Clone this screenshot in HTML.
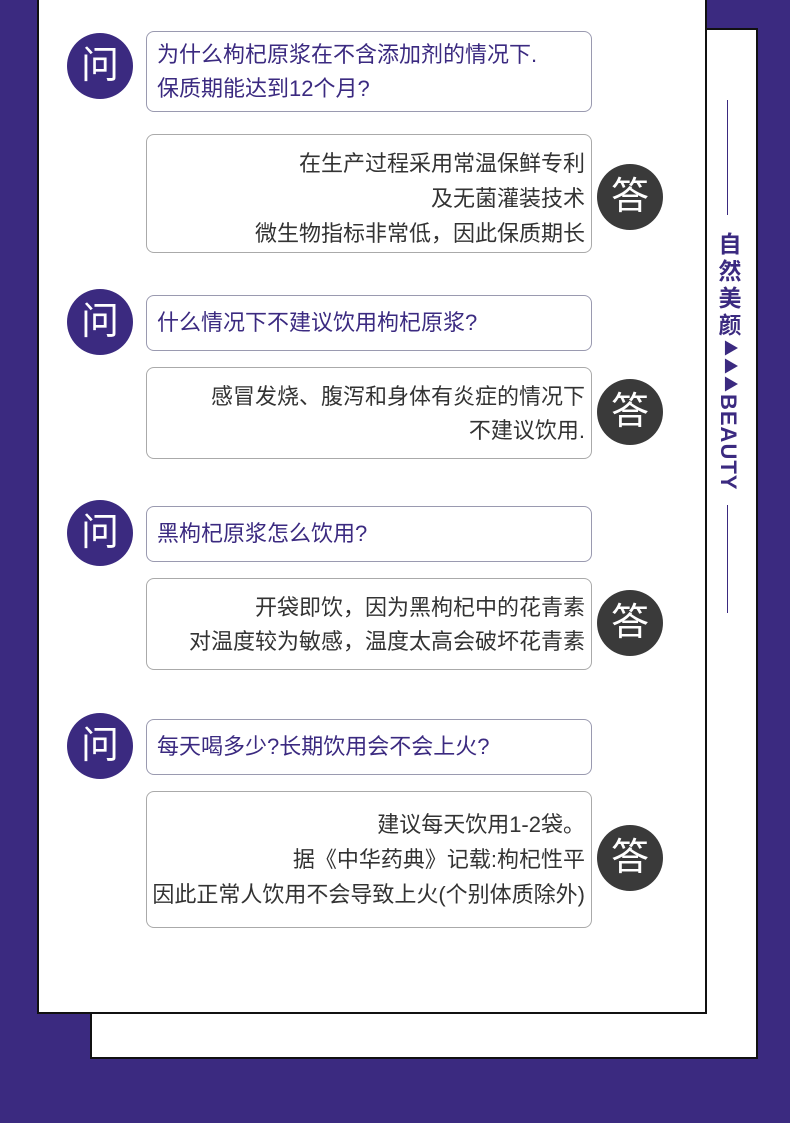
<!DOCTYPE html>
<html><head><meta charset="utf-8"><style>
*{margin:0;padding:0;box-sizing:border-box}
body{width:790px;height:1123px;background:#3b2a80;position:relative;overflow:hidden;font-family:"Liberation Sans","Noto Sans CJK SC",sans-serif}
.p{position:absolute;background:#fff;border:2px solid #111}
.c{position:absolute;width:66px;height:66px;border-radius:50%;color:#fff;font-size:38px;line-height:66px;text-align:center}
.q{background:#3b2a80}.a{background:#3a3a3a}
.b{position:absolute;left:146px;width:446px;border:1px solid #9a9ab0;border-radius:8px;font-size:22px;white-space:nowrap}
.bq{color:#3b2a80;padding-left:10px}
.ba{color:#333;text-align:right;padding-right:6px;border-color:#aaa}
.v{position:absolute;left:727px;width:1px;background:#3b2a80}
</style></head><body>
<div class="p" style="left:90px;top:28px;width:668px;height:1031px"></div>
<div class="p" style="left:37px;top:-2px;width:670px;height:1016px"></div>
<div class="v" style="top:100px;height:115px"></div>
<div class="v" style="top:505px;height:108px"></div>
<div style="position:absolute;left:715px;top:232px;width:26px;color:#3b2a80;font-weight:bold;font-size:23px;line-height:26px;letter-spacing:4px;text-align:center;writing-mode:vertical-rl">自然美颜<span style="font-size:16px;letter-spacing:2px">▶▶▶</span><span style="font-size:22px;letter-spacing:1px">BEAUTY</span></div>

<div class="c q" style="left:67px;top:33px">问</div>
<div class="b bq" style="top:31px;height:81px;line-height:34px;padding-top:6px">为什么枸杞原浆在不含添加剂的情况下.<br>保质期能达到12个月?</div>
<div class="b ba" style="top:134px;height:119px;line-height:35px;padding-top:11px">在生产过程采用常温保鲜专利<br>及无菌灌装技术<br>微生物指标非常低，因此保质期长</div>
<div class="c a" style="left:597px;top:164px">答</div>

<div class="c q" style="left:67px;top:289px">问</div>
<div class="b bq" style="top:295px;height:56px;line-height:54px">什么情况下不建议饮用枸杞原浆?</div>
<div class="b ba" style="top:367px;height:92px;line-height:34px;padding-top:12px">感冒发烧、腹泻和身体有炎症的情况下<br>不建议饮用.</div>
<div class="c a" style="left:597px;top:379px">答</div>

<div class="c q" style="left:67px;top:500px">问</div>
<div class="b bq" style="top:506px;height:56px;line-height:54px">黑枸杞原浆怎么饮用?</div>
<div class="b ba" style="top:578px;height:92px;line-height:34px;padding-top:12px">开袋即饮，因为黑枸杞中的花青素<br>对温度较为敏感，温度太高会破坏花青素</div>
<div class="c a" style="left:597px;top:590px">答</div>

<div class="c q" style="left:67px;top:713px">问</div>
<div class="b bq" style="top:719px;height:56px;line-height:54px">每天喝多少?长期饮用会不会上火?</div>
<div class="b ba" style="top:791px;height:137px;line-height:35px;padding-top:15px">建议每天饮用1-2袋。<br>据《中华药典》记载:枸杞性平<br>因此正常人饮用不会导致上火(个别体质除外)</div>
<div class="c a" style="left:597px;top:825px">答</div>
</body></html>
